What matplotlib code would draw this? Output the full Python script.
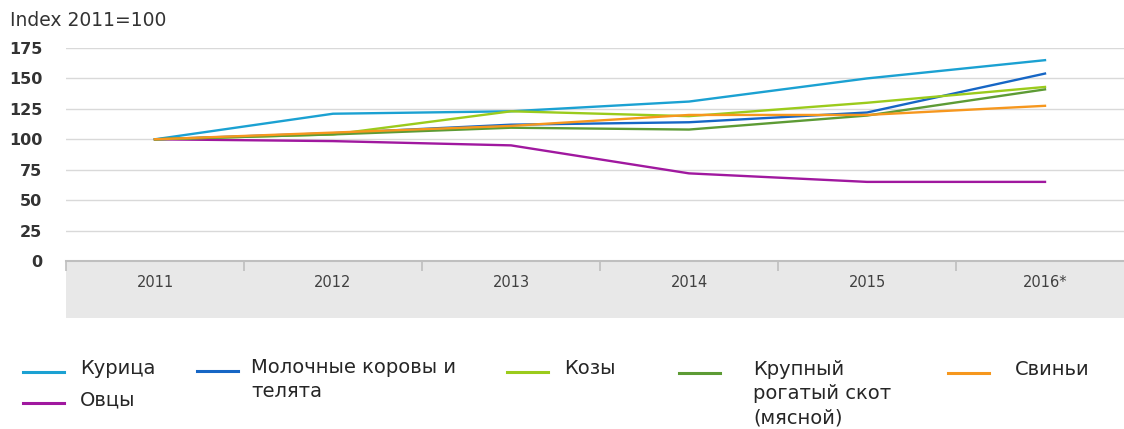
import numpy as np
import matplotlib
matplotlib.use("Agg")
import matplotlib.pyplot as plt
from matplotlib.patches import Rectangle
from matplotlib.lines import Line2D

years = ["2011", "2012", "2013", "2014", "2015", "2016*"]
names = ["Курица", "Овцы", "Молочные коровы и\nтелята", "Козы",
         "Крупный\nрогатый скот\n(мясной)", "Свиньи"]
kurica = [100, 121, 123, 131, 150, 165]
ovcy = [100, 98.5, 95, 72, 65, 65]
korovy = [100, 105, 112, 114, 122, 154]
kozy = [100, 104, 123, 119, 130, 143]
krs = [100, 104, 109.5, 108, 119.5, 141]
svini = [100, 105.5, 111, 120, 120, 127.5]
series = [kurica, ovcy, korovy, kozy, krs, svini]
colors = ["#1ba1d2", "#a0189f", "#1666c5", "#9bcb1c", "#5d9b35", "#f6971e"]

plt.rcParams["font.family"] = "DejaVu Sans"
fig = plt.figure(figsize=(11.24, 4.29), dpi=100)
ax = fig.add_axes([66 / 1124, 1 - 261 / 429, 1068 / 1124, 213 / 429])

x = np.arange(len(years))
for vals, c in zip(series, colors):
    ax.plot(x, vals, color=c, lw=1.7, solid_joinstyle="round")

ax.set_xlim(-0.5, 5.5)
ax.set_ylim(0, 175)
ax.set_yticks(np.arange(0, 176, 25))
ax.yaxis.grid(True, color="#d9d9d9", lw=1)
ax.set_axisbelow(True)
for s in ["top", "right", "left"]:
    ax.spines[s].set_visible(False)
ax.spines["bottom"].set_color("#bfbfbf")
ax.spines["bottom"].set_linewidth(1.5)
ax.tick_params(axis="y", length=0, pad=17, labelsize=11.5, labelcolor="#333333")
for lab in ax.get_yticklabels():
    lab.set_fontweight("semibold")

ax.set_xticks(x)
ax.set_xticklabels(years)
ax.set_xticks(np.arange(-0.5, 5.6, 1), minor=True)
ax.tick_params(axis="x", which="major", length=0, pad=10, labelsize=10.5, labelcolor="#404040")
ax.tick_params(axis="x", which="minor", length=7, width=1.2, color="#bfbfbf", direction="out")

# gray category band under the axis
ax.add_patch(Rectangle((0, -57 / 213), 1, 57 / 213, transform=ax.transAxes,
                       clip_on=False, color="#e8e8e8", zorder=0, lw=0))

fig.text(10 / 1124, 1 - 20 / 429, "Index 2011=100", fontsize=13.5, color="#333333",
         va="center", ha="left")

# manual legend layout (pixel positions from top-left)
leg_pos = [(23, 372, 80), (23, 403, 80), (197, 371, 251), (507, 372, 564),
           (679, 373, 753), (948, 373, 1015)]
W, H = 1124, 429
for (x0, y0, tx), name, c in zip(leg_pos, names, colors):
    fig.add_artist(Line2D([x0 / W, (x0 + 41) / W], [1 - y0 / H, 1 - y0 / H],
                          color=c, lw=2.2, transform=fig.transFigure))
    fig.text(tx / W, 1 - (y0 - 13) / H, name, fontsize=14, color="#262626",
             va="top", ha="left", linespacing=1.36)

plt.savefig("out.png", dpi=100)
